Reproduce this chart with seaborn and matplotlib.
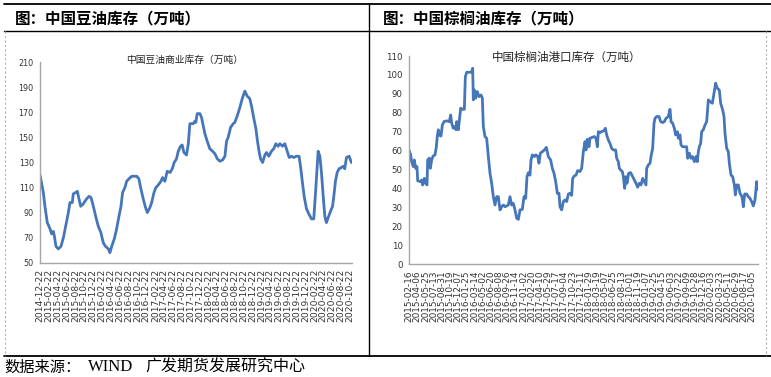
import numpy as np
import pandas as pd
import matplotlib
matplotlib.use("Agg")
import matplotlib.pyplot as plt
import matplotlib.dates as mdates
from matplotlib.lines import Line2D
import seaborn as sns

# ---------------- data ----------------
soy_start = "2014-12-22"
soy_days = [0, 23, 34, 50, 69, 80, 92, 99, 110, 126, 144, 161, 176, 195, 206, 222, 229, 245, 257, 268,
            280, 298, 309, 321, 337, 351, 367, 383, 401, 419, 435, 451, 470, 481, 493, 511, 527, 543, 557, 568,
            584, 596, 612, 630, 646, 665, 680, 694, 710, 726, 738, 756, 768, 784, 797, 813, 832, 843, 859, 875,
            894, 910, 923, 939, 951, 967, 978, 990, 1008, 1020, 1031, 1054, 1066,
            1072, 1081, 1100, 1111, 1123, 1134, 1150, 1168, 1187, 1203, 1219, 1237, 1256, 1272, 1283, 1294,
            1311, 1329, 1340, 1356, 1375, 1391, 1409, 1425, 1443, 1455, 1471, 1485, 1496, 1508, 1517, 1531,
            1547, 1558, 1574, 1592, 1608, 1622, 1638, 1650, 1668, 1684, 1695, 1714, 1730, 1746, 1764, 1782,
            1794, 1805, 1817, 1833, 1849, 1867, 1883, 1897, 1913, 1925, 1936, 1948, 1959, 1970, 1982, 1998,
            2012, 2021, 2032, 2044, 2057, 2073, 2085, 2096, 2108, 2126, 2142]
soy_values = [120, 106, 95, 82, 77, 73, 75, 71, 63, 61, 63, 70, 79, 90, 98, 98, 105, 106, 107, 101,
              95, 97, 99, 101, 103, 102, 95, 87, 79, 74, 66, 63, 61, 58, 63, 69, 77, 87, 95, 106,
              110, 115, 117, 119, 119, 119, 117, 109, 101, 94, 90, 94, 98, 106, 110, 112, 115, 118, 115, 123,
              122, 125, 130, 133, 139, 143, 144, 138, 136, 145, 161, 161, 163,
              162, 169, 169, 166, 159, 153, 147, 141, 139, 137, 133, 131, 132, 135, 147, 150,
              158, 161, 162, 167, 174, 181, 187, 183, 181, 175, 165, 157, 147, 138, 133, 130,
              136, 138, 135, 139, 141, 145, 143, 145, 143, 145, 141, 134, 135, 134, 135, 135,
              125, 114, 103, 93, 89, 85, 85, 109, 139, 135, 122, 103, 87, 82, 86, 91,
              95, 103, 115, 122, 125, 126, 127, 125, 134, 135, 130]

palm_start = "2015-02-16"
palm_days = [0, 10, 16, 26, 32, 40, 48, 52, 66, 76, 82, 92, 100, 108, 112, 122, 128, 136, 144, 156,
             164, 170, 176, 184, 192, 200, 210, 226, 242, 250, 256, 266, 276, 282, 286, 296, 302, 310, 320, 332,
             338, 346, 366, 376, 382, 386, 392, 400, 410, 420, 432, 440, 446, 456, 466, 476, 486, 496, 506, 516,
             526, 536, 546, 556, 566, 576, 586, 596, 606, 616, 626, 636, 646, 656, 666, 680, 690, 700, 708, 716,
             726, 732, 740, 752, 760, 772, 780, 788, 800, 812, 824, 836, 850, 860, 870, 880, 890, 900, 906, 916,
             926, 936, 946, 956, 966, 976, 982, 992, 1002, 1012,
             1026, 1036, 1046, 1056, 1062, 1070, 1080, 1086, 1100, 1112, 1122, 1130, 1136, 1146, 1156, 1170,
             1178, 1186, 1196, 1206, 1216, 1226, 1240, 1246, 1256, 1262, 1270, 1280, 1286, 1294, 1302, 1308,
             1318, 1330, 1342, 1352, 1362, 1372, 1382, 1392, 1402, 1412, 1422, 1426, 1436, 1446, 1452, 1462,
             1470, 1476, 1486, 1500, 1510, 1522, 1532, 1542, 1556, 1566, 1572, 1582, 1592, 1600, 1610, 1616,
             1626, 1632, 1642, 1656, 1666, 1672, 1682, 1692, 1702, 1712, 1722, 1730, 1736, 1742, 1750, 1756,
             1766, 1776, 1786, 1796, 1806, 1820, 1830, 1840, 1850, 1862, 1870, 1882, 1890, 1896, 1906, 1916,
             1922, 1932, 1942, 1952, 1958, 1966, 1976, 1986, 1998, 2006, 2014, 2026, 2036, 2046, 2056, 2066,
             2076, 2086, 2092]
palm_values = [60.3, 57.7, 54, 51.5, 55, 50.6, 51.5, 44, 43.6, 44.4, 41.8, 45.3, 42.7, 41.8, 55, 56, 50.6, 55, 57, 57.7,
               62, 67.7, 71, 68, 67.7, 73.5, 75.3, 75.7, 75.3, 78.8, 74.4, 71.8, 72.7, 71, 75.3, 71, 76, 82.4, 81.8, 81.8,
               99, 101.4, 101.4, 101.4, 103.5, 86.8, 92, 87.7, 91.2, 88.5, 89.4, 87.7, 72.7, 67.4, 66.5, 56.8, 48, 42.7, 35.6, 31.2,
               35.6, 35.6, 28.6, 30.3, 31.2, 30.3, 30.7, 31.2, 35.6, 31.2, 32, 28.6, 24.2, 23.6, 28.6, 28.9, 35.6, 34.7, 46.2, 48.3,
               47, 55, 57.7, 56.8, 57.7, 57, 53.3, 58.6, 59.4, 60.3, 61.7, 56.8, 55, 50.6, 48, 43.6, 37.4, 37.4, 30.3, 28.6,
               33, 33.9, 33, 37, 37.4, 36.3, 45.3, 46.6, 47, 49.4,
               48.9, 50.6, 59.4, 64.7, 60.3, 66, 62, 66.5, 67, 67.4, 66.5, 62, 70, 69.5, 70, 70.5,
               71.8, 68.3, 65.6, 63.8, 61.2, 60.3, 60.3, 55.9, 54.1, 50.6, 49.7, 48.9, 46.2, 40, 46.2, 42.7,
               48, 48.3, 46.2, 44.4, 42.7, 40.6, 42.7, 41.8, 45.3, 43.6, 41.8, 50.6, 52.4, 53.3, 56.8, 61.2,
               74.4, 77, 78, 78, 75.3, 74.8, 75.3, 77, 78, 81.8, 75.3, 74.4, 71.8, 68.3, 70, 66.5,
               68.3, 63, 62, 62, 62, 55.9, 58.6, 55.9, 56.8, 54.1, 56.8, 54.1, 59.4, 62, 63.8, 70,
               71, 73.5, 75.3, 86.8, 85.9, 85, 90.3, 95.6, 92.9, 92, 85, 81.5, 78, 69.1, 61.2, 59.4,
               53.3, 47, 46.2, 41.8, 36.5, 41.8, 41.8, 37.4, 35.6, 30.3, 37, 37, 35.6, 34.7, 33, 30.7,
               33.9, 43.6, 39.5]

soy_tick_labels = pd.date_range("2014-12-22", "2020-10-22", freq=pd.DateOffset(months=2))
palm_tick_labels = pd.date_range("2015-02-16", "2020-10-05", freq="49D")

soy_title = "中国豆油商业库存（万吨）"
palm_title = "中国棕榈油港口库存（万吨）"
soy_header = "图：中国豆油库存（万吨）"
palm_header = "图：中国棕榈油库存（万吨）"
source_parts = ["数据来源：", "WIND", "广发期货发展研究中心"]

# ---------------- frames ----------------
soy_df = pd.DataFrame({"date": pd.Timestamp(soy_start) + pd.to_timedelta(soy_days, unit="D"),
                       "value": soy_values})
palm_df = pd.DataFrame({"date": pd.Timestamp(palm_start) + pd.to_timedelta(palm_days, unit="D"),
                        "value": palm_values})

sns.set_theme(style="white")
plt.rcParams["font.family"] = ["DejaVu Sans", "Noto Sans CJK SC"]

W, H = 771, 377
fig = plt.figure(figsize=(W / 100, H / 100), dpi=100)
fig.patch.set_facecolor("white")

def fx(px):
    return px / W

def fy(py):
    return 1 - py / H

LINE = "#4676BA"
AXC = "#a6a6a6"
CJK = ["Noto Sans CJK SC", "DejaVu Sans"]

def style_axes(ax, ylim, yticks, ticks, xlim, ylab_size, xlab_size):
    ax.set_ylim(*ylim)
    ax.set_yticks(yticks)
    ax.set_xlim(*xlim)
    ax.set_xticks(ticks)
    ax.xaxis.set_major_formatter(mdates.DateFormatter("%Y-%m-%d"))
    for s in ["top", "right"]:
        ax.spines[s].set_visible(False)
    for s in ["left", "bottom"]:
        ax.spines[s].set_color(AXC)
        ax.spines[s].set_linewidth(1.0)
    ax.tick_params(axis="both", which="major", direction="out", length=3, width=0.8,
                   color=AXC, pad=1.5)
    ax.tick_params(axis="x", labelrotation=90, labelsize=xlab_size, labelcolor="#333333")
    ax.tick_params(axis="y", labelsize=ylab_size, labelcolor="#333333")
    ax.set_xlabel("")
    ax.set_ylabel("")
    ax.grid(False)
    ax.set_facecolor("white")

# left chart
ax1 = fig.add_axes([fx(40), fy(262.7), fx(352) - fx(40), fy(62.3) - fy(262.7)])
sns.lineplot(data=soy_df, x="date", y="value", ax=ax1, color=LINE, linewidth=2.0)
style_axes(ax1, (50, 210), np.arange(50, 211, 20), soy_tick_labels,
           (pd.Timestamp(soy_start), pd.Timestamp(soy_start) + pd.Timedelta(days=2146)), 5.8, 6.6)
fig.text(fx(185), fy(60), soy_title, family=CJK, fontsize=7, ha="center", va="center", color="#222222")

# right chart
ax2 = fig.add_axes([fx(409), fy(264), fx(758) - fx(409), fy(56) - fy(264)])
sns.lineplot(data=palm_df, x="date", y="value", ax=ax2, color=LINE, linewidth=2.0)
style_axes(ax2, (0, 110), np.arange(0, 111, 10), palm_tick_labels,
           (pd.Timestamp(palm_start), pd.Timestamp(palm_start) + pd.Timedelta(days=2094)), 6.2, 6.4)
fig.text(fx(567), fy(57), palm_title, family=CJK, fontsize=8.3, ha="center", va="center", color="#222222")

# frame lines
def hline(y, x0, x1, **kw):
    fig.add_artist(Line2D([fx(x0), fx(x1)], [fy(y), fy(y)], transform=fig.transFigure, **kw))

def vline(x, y0, y1, **kw):
    fig.add_artist(Line2D([fx(x), fx(x)], [fy(y0), fy(y1)], transform=fig.transFigure, **kw))

hline(4, 4, 771, color="black", linewidth=1.3)
hline(31, 4, 771, color="black", linewidth=1.0)
hline(356, 4, 771, color="black", linewidth=1.3)
vline(369, 4, 356, color="black", linewidth=1.0)
vline(4.5, 31, 356, color="#b0b0b0", linewidth=0.8, linestyle=(0, (2, 2)))
vline(766, 31, 356, color="#b0b0b0", linewidth=0.8, linestyle=(0, (2, 2)))

# headers
fig.text(fx(15), fy(18), soy_header, family=CJK, fontsize=11.2, fontweight="bold",
         ha="left", va="center", color="black")
fig.text(fx(383), fy(18), palm_header, family=CJK, fontsize=11.2, fontweight="bold",
         ha="left", va="center", color="black")

# footer
fig.text(fx(4), fy(367), source_parts[0], family=CJK, fontsize=11, ha="left", va="center", color="black")
fig.text(fx(88), fy(367), source_parts[1], family=["Liberation Serif", "DejaVu Serif"], fontsize=12,
         ha="left", va="center", color="black")
fig.text(fx(145), fy(367), source_parts[2], family=CJK, fontsize=11.5, ha="left", va="center", color="black")

fig.savefig("out.png", dpi=100, facecolor="white")
